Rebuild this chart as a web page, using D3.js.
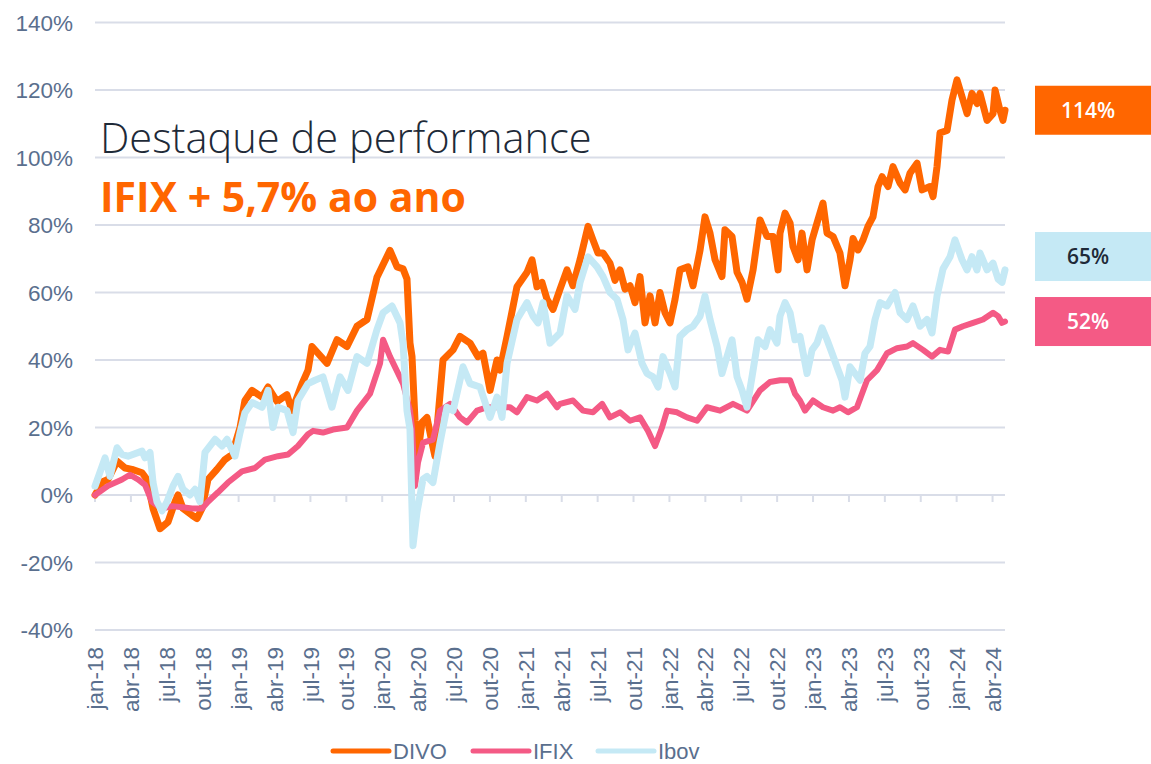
<!DOCTYPE html>
<html>
<head>
<meta charset="utf-8">
<script src="https://cdnjs.cloudflare.com/ajax/libs/d3/7.8.5/d3.min.js"></script>
<style>
  body { margin: 0; background: #fff; }
</style>
</head>
<body>
<div id="chart"></div>
<script>
// quarter tick labels (month index 0 = jan-18)
var quarterLabels = ["jan-18","abr-18","jul-18","out-18","jan-19","abr-19","jul-19","out-19",
  "jan-20","abr-20","jul-20","out-20","jan-21","abr-21","jul-21","out-21",
  "jan-22","abr-22","jul-22","out-22","jan-23","abr-23","jul-23","out-23","jan-24","abr-24"];
var yTicks = [140,120,100,80,60,40,20,0,-20,-40];

// [months since jan-18, cumulative return %]
var divo = [[0,0],[0.67,4],[1.09,4.6],[1.84,10],[2.51,8],[3.09,7.6],[3.93,6.6],[4.35,4.6],[4.85,-4],
  [5.43,-10],[6.1,-8],[6.69,-2],[6.94,0],[7.35,-4],[8.11,-6],[8.52,-7],[8.94,-4],[9.44,4.6],[10.19,7.6],
  [10.86,10.5],[11.45,12],[12.12,20],[12.53,28],[13.12,31],[13.96,29],[14.46,32],[15.21,27.7],[16.04,29.7],
  [16.46,25],[16.71,27.4],[17.3,33],[17.8,37],[18.13,44],[19.39,39],[20.22,46],[21.06,44],
  [21.89,50],[22.73,52],[23.56,64.5],[24.65,72.5],[25.24,67.6],[25.74,67],[26.07,64],[26.32,45],
  [26.49,41],[26.74,22],[26.99,12.5],[27.32,21.5],[27.74,23],[28.16,15.5],[28.41,11.5],[28.66,23],
  [29.08,40],[29.92,43],[30.5,47],[31.34,45],[32.0,41],[32.42,42],[33.01,31],[33.59,40],[33.84,37],
  [34.43,47],[35.26,61.7],[36.1,66],[36.52,69.7],[36.93,61.7],[37.35,63],[37.77,58],[38.27,55],
  [38.86,61],[39.44,66.7],[39.94,62],[40.53,69.7],[41.2,79.6],[41.61,75.6],[42.03,71.7],[42.45,71.7],
  [43.03,68.7],[43.45,63.6],[43.87,66.7],[44.29,61],[44.71,62],[45.12,57],[45.54,64.7],[45.96,51],
  [46.38,59],[46.8,51],[47.21,60],[47.63,54],[48.05,51],[48.47,58],[48.88,66.7],[49.55,67.6],[49.97,62],
  [50.56,72.6],[50.97,82.4],[51.39,77.6],[51.81,69.7],[52.39,64.7],[52.64,78.6],[53.23,76.6],[53.65,66],
  [54.07,63],[54.48,58],[54.99,66.7],[55.57,81.5],[56.15,76.6],[56.66,76.6],[57.08,66.7],[57.24,77.6],
  [57.66,83.5],[58.08,80.6],[58.33,73.6],[58.75,69.7],[59.08,77.6],[59.5,66.7],[59.92,75.6],[60.33,80.6],
  [60.83,86.5],[61.17,77.6],[61.67,76.6],[62.25,71.7],[62.67,62],[63.09,69.7],[63.34,76],[63.76,72.6],
  [64.18,75.6],[64.59,79.6],[65.01,82.4],[65.43,91.4],[65.77,94.3],[66.27,91.4],[66.68,97.3],
  [67.27,92.4],[67.69,90.4],[68.1,95.3],[68.69,98.3],[69.11,90.4],[69.77,91.4],
  [70.03,88.4],[70.36,97.3],[70.61,107.3],[71.2,108],[71.61,117],[72.03,123],[72.45,118],[72.87,113],
  [73.28,119],[73.7,116],[73.95,119],[74.54,111],[75.04,113],[75.21,120],[75.62,114],[75.87,111],[76.04,114]];

var ifix = [[0,0],[1.09,2.7],[2.26,4.6],[2.92,6],[3.59,4.6],[4.18,3],[4.76,-2],[5.6,-4],[6.43,-3.3],
  [7.27,-3.6],[8.11,-4],[8.94,-4],[9.44,-2],[10.28,0.8],[11.11,3.7],[12.28,7],[13.37,8],[14.21,10.5],
  [15.29,11.5],[16.13,12],[16.96,14.5],[17.8,18],[18.22,19],[19.05,18.5],[19.89,19.4],[21.06,20],
  [21.89,25],[22.98,30],[23.82,39],[24.07,46],[24.65,41],
  [25.74,33],[26.32,25],[26.49,19.5],[26.74,2.7],[26.99,9.6],[27.41,15.5],[28.24,16.4],[28.83,25],
  [29.66,27],[30.5,23],[31.09,21.5],[31.92,25],[32.76,26],[33.84,26],[34.68,26],[35.26,24.5],[36.1,29],
  [36.93,28],[37.77,30],[38.61,26],[38.86,27],[39.94,28],[40.78,25],[41.61,24.5],[42.37,27],[43.03,23],
  [43.87,24.5],[44.71,22],[45.54,23],[46.21,19],[46.8,14.5],[47.38,20],[47.8,25],[48.63,24.5],
  [49.47,23],[50.31,22],[51.14,26],[52.23,25],[53.31,27],[54.48,25],[55.57,31],[56.4,33.5],[57.24,34],
  [58.08,34],[58.49,30],[58.91,28],[59.33,25],[60.0,28],[60.83,26],[61.67,25],[62.25,26],[62.92,24.5],
  [63.67,26],[64.51,34],[65.35,37],[66.18,42],[67.02,43.5],[67.85,44],[68.35,45],[69.19,43],[69.94,41],
  [70.61,43],[71.28,42.5],[71.86,49],[72.53,50],[73.37,51],[74.2,52],[75.04,54],[75.46,53],
  [75.79,51],[76.04,51.4]];

var ibov = [[0,2.6],[0.84,11],[1.25,5.5],[1.84,14],[2.26,12],[2.76,11.5],[3.93,13],[4.18,11],[4.6,12.6],
  [4.85,3.7],[5.18,-2],[5.6,-4.7],[6.02,-2],[6.52,2.7],[6.94,5.5],[7.35,1.7],[7.94,0],[8.36,1.7],
  [8.77,-2],[9.19,12.6],[10.03,16.5],[10.61,14.5],[11.03,16.5],[11.7,11.5],[12.12,18.5],[12.53,24.4],
  [13.12,27.4],[13.96,26],[14.46,31],[14.87,20],[15.29,26],[16.04,25],[16.55,18.5],[16.96,28],
  [17.8,33],[18.38,34],[19.05,35],
  [19.8,26],[20.47,35],[21.14,31],[21.89,41],[22.73,39],[23.56,49],[24.07,54],[24.82,56],[25.49,51],
  [25.74,45],[26.07,25],[26.32,19.5],[26.57,-15],[26.91,-5],[27.41,4.7],[27.74,5.5],[28.24,3.7],
  [28.83,15.5],[29.41,26],[29.92,25],[30.75,38],[31.34,33],[32.17,32],[33.01,23],[33.59,29],[34.01,23],
  [34.43,39],[35.26,52],[36.1,57],[36.6,53],[37.02,51],[37.44,57],[38.02,45],[38.86,48],[39.44,59],
  [40.11,55],[40.53,63],[41.2,70.6],[41.95,67.6],[42.45,64.7],[43.03,60],[43.62,58],[44.12,52],
  [44.54,43],[45.12,48],[45.71,39],[46.13,36],[46.63,35],[47.05,32],[47.46,41],[48.05,36],[48.47,32],
  [48.88,47],[49.47,49],[49.97,50],[50.56,53],[50.97,59],[51.39,52],[51.98,44],[52.39,36],[52.81,41],
  [53.23,46],[53.65,35],[54.07,31],[54.48,26],[54.9,35],[55.4,46],[55.99,44],[56.4,49],[56.99,45],
  [57.24,53],[57.66,57],[58.08,54],[58.49,46],[58.91,47],[59.5,36],[59.92,43],[60.33,45],[60.75,49.5],
  [61.17,46],[61.59,42],[62.0,38],[62.42,34],[62.67,29],[63.09,38],[63.51,36],[63.93,34],[64.34,42],
  [64.76,44],[65.18,52],[65.6,57],[66.18,56],[66.85,60],[67.27,54],[67.85,52],[68.35,56],[68.94,50],
  [69.52,52],[69.94,48],[70.36,59],[70.86,67],[71.45,70.6],[71.86,75.6],[72.45,69.7],[72.87,66.7],
  [73.28,70.6],[73.7,66.7],[73.95,71.7],[74.54,66.7],[75.04,68.7],[75.46,64],[75.79,63],[76.04,66.7]];

var seriesNames = ["DIVO", "IFIX", "Ibov"];
var endLabels = ["114%", "52%", "65%"];

var W = 1151, H = 764;
var colors = { DIVO: "#ff6600", IFIX: "#f45a85", Ibov: "#c5e9f5" };
var axisColor = "#5a6f8e", gridColor = "#d9dde8";

var svg = d3.select("#chart").append("svg").attr("width", W).attr("height", H);

var x = d3.scaleLinear().domain([0, 76.04]).range([95, 1005]);
var y = d3.scaleLinear().domain([-40, 140]).range([630, 22.5]);

// gridlines
svg.append("g").selectAll("line").data(yTicks).enter().append("line")
  .attr("x1", 95).attr("x2", 1005)
  .attr("y1", function (d) { return y(d); }).attr("y2", function (d) { return y(d); })
  .style("stroke", gridColor).style("stroke-width", 2);

// y labels
svg.append("g").selectAll("text").data(yTicks).enter().append("text")
  .attr("x", 73).attr("y", function (d) { return y(d); }).attr("dy", "0.36em")
  .attr("text-anchor", "end")
  .style("font-family", "'Liberation Sans', Arial, sans-serif").style("font-size", "22.5px")
  .style("fill", axisColor)
  .text(function (d) { return d + "%"; });

// category ticks on the 0% line
var qIdx = d3.range(quarterLabels.length);
svg.append("g").selectAll("line").data(qIdx).enter().append("line")
  .attr("x1", function (i) { return x(i * 3); }).attr("x2", function (i) { return x(i * 3); })
  .attr("y1", y(0)).attr("y2", y(0) + 7)
  .style("stroke", gridColor).style("stroke-width", 2);

svg.append("g").selectAll("text").data(qIdx).enter().append("text")
  .attr("transform", function (i) { return "translate(" + x(i * 3) + ",647) rotate(-90)"; })
  .attr("dy", "0.36em")
  .attr("text-anchor", "end")
  .style("font-family", "'Liberation Sans', Arial, sans-serif").style("font-size", "22.5px")
  .style("fill", axisColor)
  .text(function (i) { return quarterLabels[i]; });

// lines
var line = d3.line().x(function (d) { return x(d[0]); }).y(function (d) { return y(d[1]); });
var data = { DIVO: divo, IFIX: ifix, Ibov: ibov };
var widths = { DIVO: 7, IFIX: 6, Ibov: 7 };
seriesNames.forEach(function (s) {
  svg.append("path").datum(data[s])
    .attr("d", line)
    .style("fill", "none")
    .style("stroke", colors[s])
    .style("stroke-width", widths[s])
    .style("stroke-linejoin", "round")
    .style("stroke-linecap", "round");
});

// title
svg.append("text").attr("x", 100).attr("y", 153)
  .style("font-family", "'Open Sans', sans-serif").style("font-weight", 300)
  .style("font-size", "41.6px").style("fill", "#1e2a38")
  .text("Destaque de performance");
svg.append("text").attr("x", 100).attr("y", 212)
  .style("font-family", "'Open Sans', sans-serif").style("font-weight", 700)
  .style("font-size", "41px").style("fill", "#ff6600")
  .text("IFIX + 5,7% ao ano");

// end value boxes, pushed apart so they don't overlap
var boxes = seriesNames.map(function (s, i) {
  var d = data[s];
  return { name: s, label: endLabels[i], cy: y(d[d.length - 1][1]) };
}).sort(function (a, b) { return b.cy - a.cy; });
for (var i = 1; i < boxes.length; i++) {
  if (boxes[i - 1].cy - boxes[i].cy < 65) boxes[i].cy = boxes[i - 1].cy - 65;
}
var bg = svg.append("g").selectAll("g").data(boxes).enter().append("g");
bg.append("rect")
  .attr("x", 1035).attr("y", function (d) { return d.cy - 24.5; })
  .attr("width", 120).attr("height", 49)
  .style("fill", function (d) { return colors[d.name]; });
bg.append("text")
  .attr("x", 1088).attr("y", function (d) { return d.cy; }).attr("dy", "0.36em")
  .attr("text-anchor", "middle")
  .style("font-family", "'Open Sans', sans-serif").style("font-weight", 600)
  .style("font-size", "21px")
  .style("fill", function (d) { return d.name === "Ibov" ? "#1e2a38" : "#fff"; })
  .text(function (d) { return d.label; });

// legend
var legendX = [333, 473, 598];
var lg = svg.append("g").selectAll("g").data(seriesNames).enter().append("g")
  .attr("transform", function (d, i) { return "translate(" + legendX[i] + ",751)"; });
lg.append("line").attr("x1", 0).attr("x2", 56)
  .style("stroke", function (d) { return colors[d]; })
  .style("stroke-width", 5).style("stroke-linecap", "round");
lg.append("text").attr("x", 60).attr("dy", "0.35em")
  .style("font-family", "'Liberation Sans', Arial, sans-serif").style("font-size", "22px")
  .style("fill", axisColor)
  .text(function (d) { return d; });
</script>
</body>
</html>
